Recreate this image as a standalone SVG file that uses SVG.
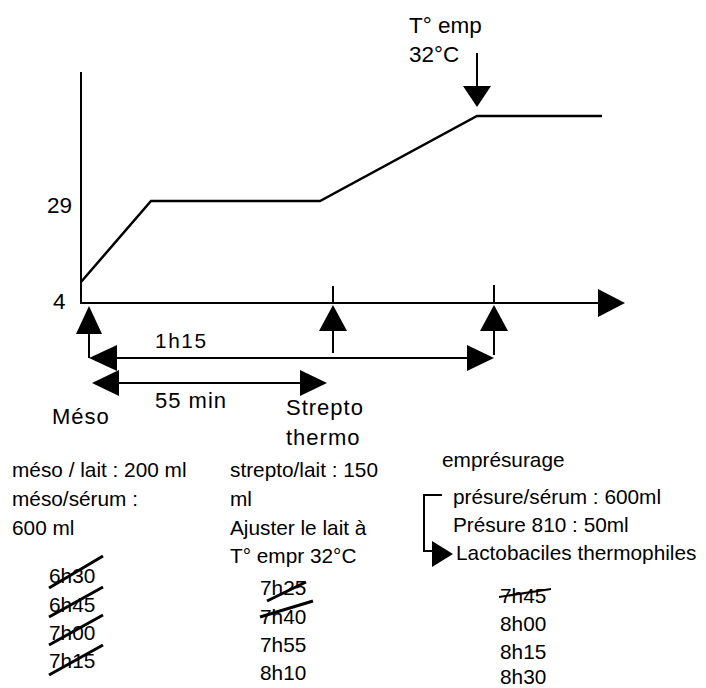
<svg xmlns="http://www.w3.org/2000/svg" width="706" height="688" viewBox="0 0 706 688">
<style>
text{font-family:"Liberation Sans",Arial,sans-serif;font-size:20.8px;fill:#000}
.big{font-size:22.5px}
.mid{font-size:22px;letter-spacing:1px}
.sp{letter-spacing:1.6px}
.ln{stroke:#000;stroke-width:2;fill:none}
.cv{stroke:#000;stroke-width:2.5;fill:none}
.st{stroke:#000;stroke-width:3;fill:none}
.hd{fill:#000;stroke:none}
</style>
<rect width="706" height="688" fill="#fff"/>
<g id="connectors">
<line class="ln" x1="81" y1="72" x2="81" y2="303"/>
<line class="ln" x1="80" y1="303" x2="600" y2="303"/>
<polygon class="hd" points="598,289 625,303 598,317"/>
<polyline class="cv" points="81,282 151,201 320,201 477,116 602,116"/>
<line class="ln" x1="477" y1="53" x2="477" y2="90"/>
<polygon class="hd" points="463,86 491,86 477,107"/>
<line class="ln" x1="333" y1="286" x2="333" y2="303"/>
<line class="ln" x1="494" y1="285" x2="494" y2="303"/>
<line class="ln" x1="89" y1="330" x2="89" y2="358"/>
<polygon class="hd" points="89,306 102,334 76,334"/>
<line class="ln" x1="333" y1="328" x2="333" y2="353"/>
<polygon class="hd" points="333,305 347,331 319,331"/>
<line class="ln" x1="494" y1="328" x2="494" y2="355"/>
<polygon class="hd" points="494,305 508,331 480,331"/>
<line class="ln" x1="110" y1="358" x2="475" y2="358"/>
<polygon class="hd" points="89,358 117,345 117,371"/>
<polygon class="hd" points="494,358 467,345 467,371"/>
<line class="ln" x1="112" y1="383" x2="305" y2="383"/>
<polygon class="hd" points="92,383 119,370 119,396"/>
<polygon class="hd" points="327,383 300,370 300,396"/>
<polyline class="ln" points="442,495 424,495 424,551 436,551"/>
<polygon class="hd" points="432,541 453,554 432,567"/>
<line class="st" x1="49" y1="588" x2="103" y2="556"/>
<line class="st" x1="49" y1="617" x2="103" y2="587"/>
<line class="st" x1="49" y1="645" x2="103" y2="615"/>
<line class="st" x1="49" y1="675" x2="103" y2="645"/>
<line class="st" x1="267" y1="601" x2="306" y2="582"/>
<line class="st" x1="260" y1="617" x2="313" y2="601"/>
<line class="ln" x1="499" y1="597" x2="551" y2="589"/>
</g>
<g id="axis-labels">
<text class="big" x="47" y="213">29</text>
<text class="big" x="53" y="309">4</text>
<text class="big" x="409" y="33">T° emp</text>
<text class="big" x="409" y="62">32°C</text>
</g>
<g id="durations">
<text class="sp" x="155" y="348">1h15</text>
<text class="mid" x="155" y="408">55 min</text>
</g>
<g id="meso">
<text class="mid" x="52" y="424">Méso</text>
<text x="12" y="477">méso / lait : 200 ml</text>
<text x="12" y="506">méso/sérum :</text>
<text x="12" y="535">600 ml</text>
<text x="49" y="583">6h30</text>
<text x="49" y="612">6h45</text>
<text x="49" y="640">7h00</text>
<text x="49" y="668">7h15</text>
</g>
<g id="strepto">
<text class="mid" x="286" y="415">Strepto</text>
<text class="mid" x="286" y="445">thermo</text>
<text x="230" y="477">strepto/lait : 150</text>
<text x="230" y="506">ml</text>
<text x="230" y="535">Ajuster le lait à</text>
<text x="230" y="563">T° empr 32°C</text>
<text x="260" y="595">7h25</text>
<text x="260" y="624">7h40</text>
<text x="260" y="652">7h55</text>
<text x="260" y="680">8h10</text>
</g>
<g id="empresurage">
<text x="442" y="467">emprésurage</text>
<text x="453" y="504">présure/sérum : 600ml</text>
<text x="453" y="532">Présure 810 : 50ml</text>
<text x="456" y="560">Lactobaciles thermophiles</text>
<text x="500" y="603">7h45</text>
<text x="500" y="631">8h00</text>
<text x="500" y="659">8h15</text>
<text x="500" y="684">8h30</text>
</g>
</svg>
